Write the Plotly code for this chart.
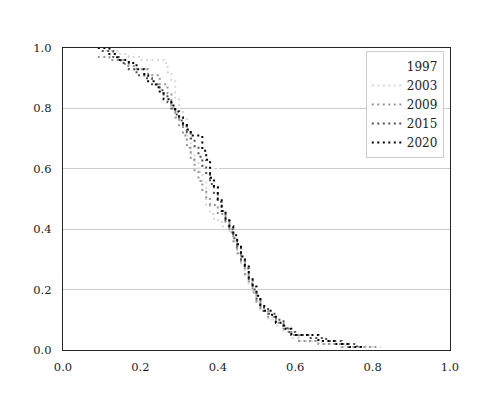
import plotly.graph_objects as go

years = ["1997", "2003", "2009", "2015", "2020"]
colors = ["#ffffff", "#d9d9d9", "#969696", "#525252", "#000000"]

x_1997 = [0.10, 0.15, 0.20, 0.25, 0.30, 0.35, 0.40, 0.45, 0.50, 0.55, 0.60, 0.70]
y_1997 = [1.00, 0.97, 0.93, 0.86, 0.75, 0.60, 0.45, 0.33, 0.18, 0.09, 0.04, 0.00]

x_2003 = [0.11, 0.14, 0.17, 0.20, 0.26, 0.27, 0.28, 0.29, 0.29, 0.30, 0.31, 0.32, 0.32, 0.33, 0.33,
          0.34, 0.35, 0.36, 0.37, 0.37, 0.38, 0.39, 0.41, 0.43, 0.44, 0.45, 0.46, 0.47, 0.48, 0.49,
          0.50, 0.51, 0.53, 0.55, 0.57, 0.59, 0.61, 0.67, 0.73, 0.80]
y_2003 = [0.99, 0.98, 0.97, 0.96, 0.95, 0.92, 0.89, 0.86, 0.83, 0.80, 0.77, 0.74, 0.71, 0.68, 0.65,
          0.62, 0.59, 0.56, 0.52, 0.48, 0.45, 0.43, 0.41, 0.39, 0.36, 0.32, 0.28, 0.25, 0.22, 0.19,
          0.16, 0.13, 0.10, 0.08, 0.06, 0.04, 0.03, 0.02, 0.01, 0.00]

x_2009 = [0.09, 0.12, 0.16, 0.19, 0.22, 0.25, 0.27, 0.28, 0.29, 0.30, 0.31, 0.32, 0.33, 0.34, 0.35,
          0.36, 0.37, 0.38, 0.40, 0.42, 0.43, 0.44, 0.45, 0.46, 0.47, 0.48, 0.49, 0.50, 0.51, 0.53,
          0.55, 0.57, 0.59, 0.61, 0.66, 0.72, 0.82]
y_2009 = [0.97, 0.96, 0.94, 0.93, 0.91, 0.88, 0.85, 0.80, 0.77, 0.74, 0.71, 0.67, 0.63, 0.59, 0.56,
          0.53, 0.50, 0.48, 0.45, 0.42, 0.39, 0.36, 0.32, 0.29, 0.25, 0.22, 0.19, 0.16, 0.13, 0.11,
          0.09, 0.07, 0.05, 0.03, 0.02, 0.01, 0.01]

x_2015 = [0.10, 0.13, 0.15, 0.17, 0.19, 0.21, 0.23, 0.25, 0.26, 0.27, 0.28, 0.29, 0.30, 0.31, 0.32,
          0.33, 0.34, 0.35, 0.36, 0.37, 0.38, 0.39, 0.40, 0.41, 0.42, 0.43, 0.44, 0.45, 0.46, 0.47,
          0.48, 0.49, 0.50, 0.51, 0.53, 0.55, 0.57, 0.58, 0.60, 0.64, 0.68, 0.72, 0.76]
y_2015 = [0.99, 0.97, 0.95, 0.93, 0.91, 0.90, 0.88, 0.86, 0.84, 0.82, 0.80, 0.78, 0.76, 0.74, 0.72,
          0.70, 0.67, 0.64, 0.61, 0.58, 0.55, 0.52, 0.49, 0.46, 0.43, 0.40, 0.37, 0.34, 0.30, 0.27,
          0.23, 0.20, 0.17, 0.14, 0.12, 0.10, 0.08, 0.06, 0.05, 0.04, 0.03, 0.02, 0.01]

x_2020 = [0.09, 0.12, 0.14, 0.17, 0.19, 0.21, 0.22, 0.24, 0.25, 0.26, 0.28, 0.29, 0.30, 0.31, 0.32,
          0.33, 0.36, 0.37, 0.38, 0.38, 0.39, 0.40, 0.41, 0.42, 0.43, 0.44, 0.45, 0.46, 0.47, 0.48,
          0.49, 0.50, 0.51, 0.52, 0.54, 0.55, 0.57, 0.59, 0.66, 0.70, 0.74, 0.77]
y_2020 = [1.00, 0.98, 0.96, 0.95, 0.93, 0.91, 0.89, 0.87, 0.85, 0.83, 0.81, 0.79, 0.77, 0.75, 0.73,
          0.71, 0.66, 0.63, 0.60, 0.57, 0.54, 0.50, 0.46, 0.43, 0.41, 0.38, 0.35, 0.31, 0.28, 0.24,
          0.21, 0.18, 0.15, 0.13, 0.11, 0.09, 0.07, 0.05, 0.03, 0.02, 0.01, 0.00]

tick_vals = [0.0, 0.2, 0.4, 0.6, 0.8, 1.0]
tick_text = ["0.0", "0.2", "0.4", "0.6", "0.8", "1.0"]

series = [(x_1997, y_1997), (x_2003, y_2003), (x_2009, y_2009), (x_2015, y_2015), (x_2020, y_2020)]

fig = go.Figure()
for name, col, (xs, ys) in zip(years, colors, series):
    fig.add_trace(go.Scatter(
        x=xs, y=ys, name=name, mode="lines",
        line=dict(color=col, width=2.0, dash="2px,3.5px", shape="hv"),
    ))

font = dict(family="DejaVu Serif", size=11.5, color="#222222")
fig.update_layout(
    width=500, height=400,
    margin=dict(l=55, r=58, t=40, b=58),
    paper_bgcolor="white", plot_bgcolor="white",
    font=font,
    showlegend=True,
    legend=dict(
        x=0.984, xanchor="right", y=0.99, yanchor="top",
        bgcolor="rgba(255,255,255,0.8)", bordercolor="#cccccc", borderwidth=1,
        font=dict(family="DejaVu Serif", size=12, color="#222222"),
    ),
)
fig.update_xaxes(
    range=[0, 1], tickvals=tick_vals, ticktext=tick_text,
    showgrid=False, zeroline=False, showline=True, linecolor="#262626", linewidth=1.2,
    mirror=True, ticks="", ticklabelstandoff=6,
)
fig.update_yaxes(
    range=[0, 1], tickvals=tick_vals, ticktext=tick_text,
    showgrid=True, gridcolor="#cccccc", gridwidth=1, zeroline=False,
    showline=True, linecolor="#262626", linewidth=1.2, mirror=True, ticks="", ticklabelstandoff=8,
)
fig.write_html("out.html")
